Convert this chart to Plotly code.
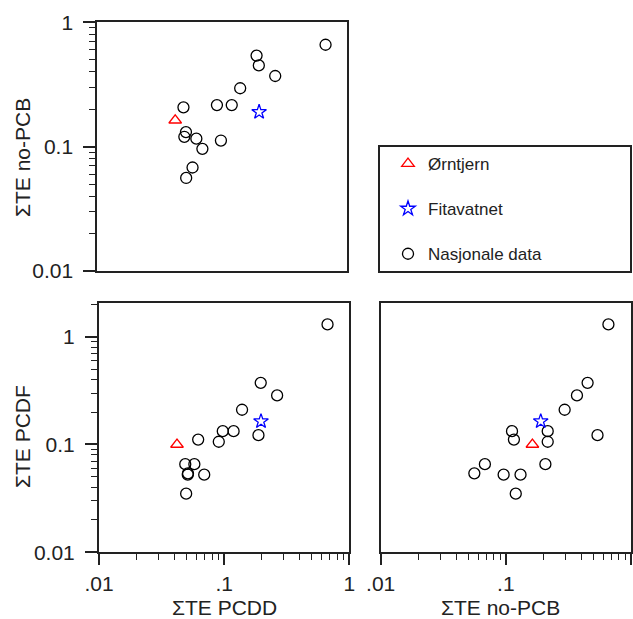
import plotly.graph_objects as go

# Nasjonale data (one entry per lake)
pcdd = [0.67, 0.196, 0.265, 0.139, 0.0975, 0.119, 0.188, 0.062, 0.0906, 0.0489, 0.0578, 0.0497, 0.0512, 0.0693, 0.0514]
pcdf = [1.30, 0.373, 0.285, 0.210, 0.133, 0.133, 0.122, 0.111, 0.106, 0.0657, 0.0657, 0.035, 0.0525, 0.0525, 0.054]
nopcb = [0.66, 0.45, 0.37, 0.295, 0.112, 0.216, 0.54, 0.116, 0.216, 0.207, 0.068, 0.12, 0.131, 0.096, 0.056]

# Named lakes
orn_pcdd, orn_pcdf, orn_nopcb = [0.042], [0.100], [0.163]
fit_pcdd, fit_pcdf, fit_nopcb = [0.197], [0.164], [0.19]

y_ticks = [0.01, 0.1, 1]
y_ticktext = ["0.01", "0.1", "1"]
x_ticks = [0.01, 0.1, 1]
x_ticktext = [".01", ".1", "1"]
minor_vals = [0.02, 0.03, 0.04, 0.05, 0.06, 0.07, 0.08, 0.09,
              0.2, 0.3, 0.4, 0.5, 0.6, 0.7, 0.8, 0.9, 2]

W, H = 633, 619
FONT = "Liberation Sans, Arial, sans-serif"
LC = "#222222"

def px_x(a, b):
    return [a / W, b / W]

def px_y(top, bottom):
    return [1 - bottom / H, 1 - top / H]

fig = go.Figure()

panels = [
    ("x", "y", pcdd, nopcb, (orn_pcdd, orn_nopcb), (fit_pcdd, fit_nopcb), True),
    ("x2", "y2", pcdd, pcdf, (orn_pcdd, orn_pcdf), (fit_pcdd, fit_pcdf), False),
    ("x3", "y3", nopcb, pcdf, (orn_nopcb, orn_pcdf), (fit_nopcb, fit_pcdf), False),
]

for xa, ya, xd, yd, orn, fit, sl in panels:
    fig.add_trace(go.Scatter(
        x=xd, y=yd, xaxis=xa, yaxis=ya, mode="markers", name="Nasjonale data",
        legendgroup="c", legendrank=3, showlegend=sl,
        marker=dict(symbol="circle-open", size=11, color="black", line=dict(width=1.3, color="black"))))
    fig.add_trace(go.Scatter(
        x=orn[0], y=orn[1], xaxis=xa, yaxis=ya, mode="markers", name="Ørntjern",
        legendgroup="a", legendrank=1, showlegend=sl,
        marker=dict(symbol="triangle-up-open", size=11, color="red", line=dict(width=1.3, color="red"))))
    fig.add_trace(go.Scatter(
        x=fit[0], y=fit[1], xaxis=xa, yaxis=ya, mode="markers", name="Fitavatnet",
        legendgroup="b", legendrank=2, showlegend=sl,
        marker=dict(symbol="star-open", size=11, color="blue", line=dict(width=1.3, color="blue"))))

tickfont = dict(family=FONT, size=21, color=LC)
common = dict(type="log", showgrid=False, zeroline=False, showline=True, linewidth=2,
              linecolor=LC, mirror=True, tickcolor=LC, tickwidth=1.5, tickfont=tickfont,
              automargin=False)

def xaxis(domain, anchor, labels):
    d = dict(common, domain=domain, anchor=anchor, range=[-2, 0])
    if labels:
        d.update(ticks="outside", ticklen=11, tickvals=x_ticks, ticktext=x_ticktext,
                 ticklabelstandoff=0,
                 minor=dict(ticks="outside", ticklen=6, tickvals=minor_vals, tickcolor=LC, tickwidth=1.2))
    else:
        d.update(ticks="", showticklabels=False)
    return d

def yaxis(domain, anchor, rng, labels):
    d = dict(common, domain=domain, anchor=anchor, range=rng)
    if labels:
        d.update(ticks="outside", ticklen=12, tickvals=y_ticks, ticktext=y_ticktext,
                 ticklabelstandoff=6,
                 minor=dict(ticks="outside", ticklen=6, tickvals=minor_vals, tickcolor=LC, tickwidth=1.2))
    else:
        d.update(ticks="", showticklabels=False)
    return d

title_font = dict(family=FONT, size=21, color=LC)

fig.update_layout(
    width=W, height=H,
    margin=dict(l=0, r=0, t=0, b=0, pad=0, autoexpand=False),
    paper_bgcolor="white", plot_bgcolor="white",
    font=dict(family=FONT, color=LC),
    xaxis=xaxis(px_x(97.3, 347.3), "y", False),
    yaxis=yaxis(px_y(22.3, 271), "x", [-2, 0], True),
    xaxis2=xaxis(px_x(99, 349.3), "y2", True),
    yaxis2=yaxis(px_y(302.7, 552.3), "x2", [-2, 0.315], True),
    xaxis3=xaxis(px_x(380.7, 631), "y3", True),
    yaxis3=yaxis(px_y(302.7, 552.3), "x3", [-2, 0.315], False),
    showlegend=True,
    legend=dict(x=388 / W, y=1 - 146 / H, xanchor="left", yanchor="top",
                bgcolor="rgba(0,0,0,0)", borderwidth=0,
                font=dict(family=FONT, size=17, color=LC),
                tracegroupgap=20, traceorder="grouped"),
    shapes=[dict(type="rect", xref="paper", yref="paper",
                 x0=379 / W, x1=631 / W, y0=1 - 272 / H, y1=1 - 146 / H,
                 line=dict(color=LC, width=2))],
    annotations=[
        dict(text="ΣTE no-PCB", xref="paper", yref="paper", x=22 / W, y=1 - 158 / H,
             xanchor="center", yanchor="middle",
             textangle=-90, showarrow=False, font=title_font),
        dict(text="ΣTE PCDF", xref="paper", yref="paper", x=22 / W, y=1 - 437 / H,
             xanchor="center", yanchor="middle",
             textangle=-90, showarrow=False, font=title_font),
        dict(text="ΣTE PCDD", xref="paper", yref="paper", x=224 / W, y=1 - 607 / H,
             xanchor="center", yanchor="middle", showarrow=False, font=title_font),
        dict(text="ΣTE no-PCB", xref="paper", yref="paper", x=500 / W, y=1 - 607 / H,
             xanchor="center", yanchor="middle", showarrow=False, font=title_font),
    ],
)

fig.write_html("out.html", config={"displayModeBar": False},
               post_script="document.body.style.margin='0';document.body.style.padding='0';")
